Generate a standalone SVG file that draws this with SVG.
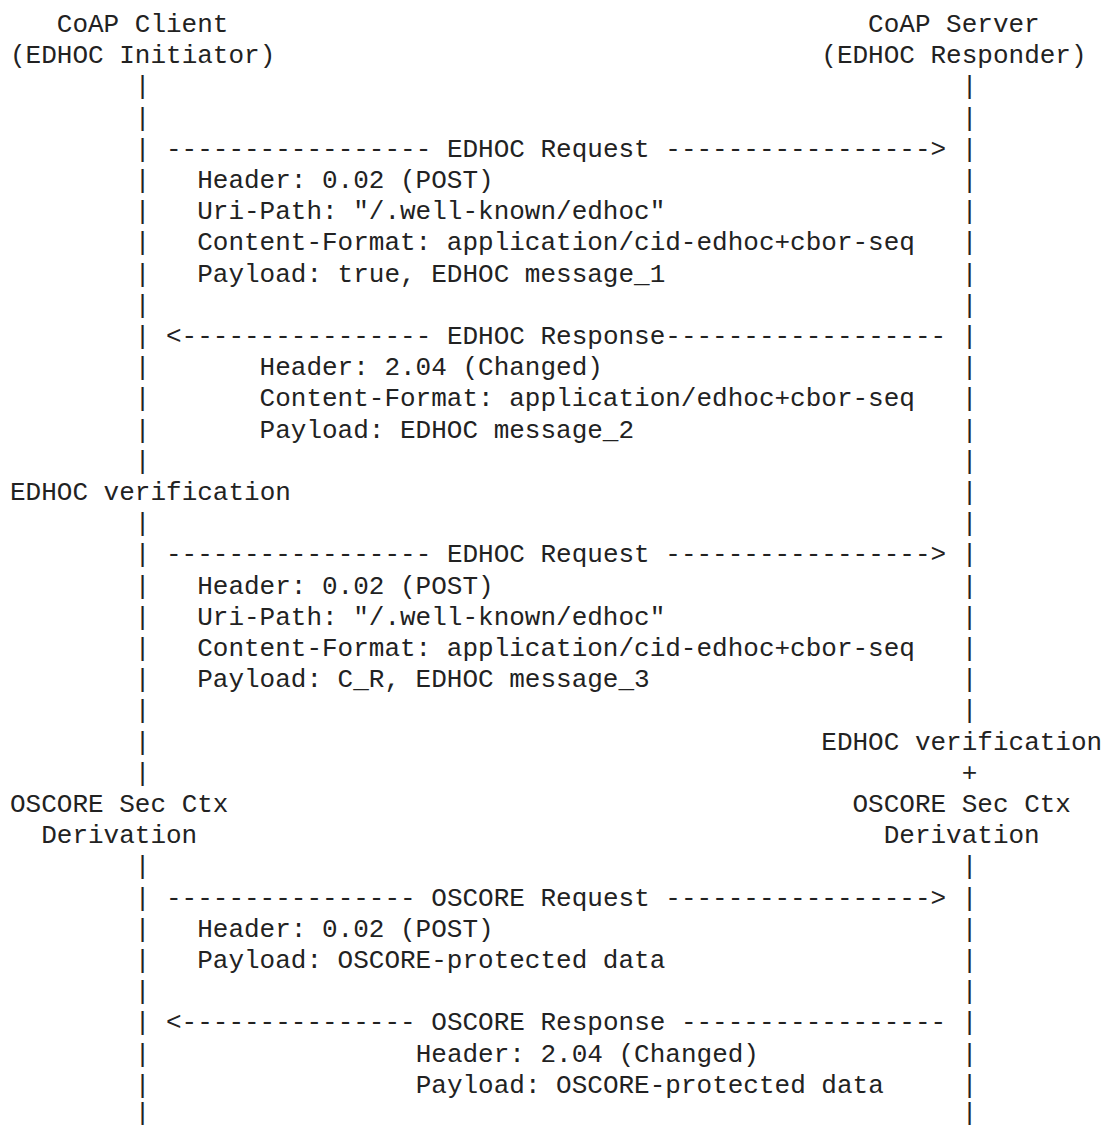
<svg xmlns="http://www.w3.org/2000/svg" width="1105" height="1125" viewBox="0 0 1105 1125">
<style>
text{font-family:"Liberation Mono","DejaVu Sans Mono",monospace;font-size:26px;fill:#222}
</style>
<rect width="1105" height="1125" fill="#fff"/>
<g id="client">
<text x="56.8" y="32">CoAP Client</text>
<text x="10" y="63.2">(EDHOC Initiator)</text>
</g>
<g id="server">
<text x="868.1" y="32">CoAP Server</text>
<text x="821.3" y="63.2">(EDHOC Responder)</text>
</g>
<g id="connectors">
<g id="lifeline-client">
<text x="134.8" y="94.4">|</text><text x="134.8" y="125.6">|</text><text x="134.8" y="156.8">|</text><text x="134.8" y="188">|</text><text x="134.8" y="219.2">|</text><text x="134.8" y="250.4">|</text><text x="134.8" y="281.6">|</text><text x="134.8" y="312.8">|</text><text x="134.8" y="344">|</text><text x="134.8" y="375.2">|</text><text x="134.8" y="406.4">|</text><text x="134.8" y="437.6">|</text><text x="134.8" y="468.8">|</text>
<text x="134.8" y="531.2">|</text><text x="134.8" y="562.4">|</text><text x="134.8" y="593.6">|</text><text x="134.8" y="624.8">|</text><text x="134.8" y="656">|</text><text x="134.8" y="687.2">|</text><text x="134.8" y="718.4">|</text><text x="134.8" y="749.6">|</text><text x="134.8" y="780.8">|</text>
<text x="134.8" y="874.4">|</text><text x="134.8" y="905.6">|</text><text x="134.8" y="936.8">|</text><text x="134.8" y="968">|</text><text x="134.8" y="999.2">|</text><text x="134.8" y="1030.4">|</text><text x="134.8" y="1061.6">|</text><text x="134.8" y="1092.8">|</text><text x="134.8" y="1121">|</text>
</g>
<g id="lifeline-server">
<text x="961.7" y="94.4">|</text><text x="961.7" y="125.6">|</text><text x="961.7" y="156.8">|</text><text x="961.7" y="188">|</text><text x="961.7" y="219.2">|</text><text x="961.7" y="250.4">|</text><text x="961.7" y="281.6">|</text><text x="961.7" y="312.8">|</text><text x="961.7" y="344">|</text><text x="961.7" y="375.2">|</text><text x="961.7" y="406.4">|</text><text x="961.7" y="437.6">|</text><text x="961.7" y="468.8">|</text><text x="961.7" y="500">|</text>
<text x="961.7" y="531.2">|</text><text x="961.7" y="562.4">|</text><text x="961.7" y="593.6">|</text><text x="961.7" y="624.8">|</text><text x="961.7" y="656">|</text><text x="961.7" y="687.2">|</text><text x="961.7" y="718.4">|</text>
<text x="961.7" y="874.4">|</text><text x="961.7" y="905.6">|</text><text x="961.7" y="936.8">|</text><text x="961.7" y="968">|</text><text x="961.7" y="999.2">|</text><text x="961.7" y="1030.4">|</text><text x="961.7" y="1061.6">|</text><text x="961.7" y="1092.8">|</text><text x="961.7" y="1121">|</text>
</g>
<g id="arrow-edhoc-req1">
<text x="166" y="156.8">-----------------</text>
<text x="665.3" y="156.8">-----------------&gt;</text>
</g>
<g id="arrow-edhoc-resp">
<text x="166" y="344">&lt;----------------</text>
<text x="665.3" y="344">------------------</text>
</g>
<g id="arrow-edhoc-req2">
<text x="166" y="562.4">-----------------</text>
<text x="665.3" y="562.4">-----------------&gt;</text>
</g>
<g id="arrow-oscore-req">
<text x="166" y="905.6">----------------</text>
<text x="665.3" y="905.6">-----------------&gt;</text>
</g>
<g id="arrow-oscore-resp">
<text x="166" y="1030.4">&lt;---------------</text>
<text x="680.9" y="1030.4">-----------------</text>
</g>
</g>
<g id="msg-edhoc-request-1">
<text x="446.9" y="156.8">EDHOC Request</text>
<text x="197.2" y="188">Header: 0.02 (POST)</text>
<text x="197.2" y="219.2">Uri-Path: "/.well-known/edhoc"</text>
<text x="197.2" y="250.4">Content-Format: application/cid-edhoc+cbor-seq</text>
<text x="197.2" y="281.6">Payload: true, EDHOC message_1</text>
</g>
<g id="msg-edhoc-response">
<text x="446.9" y="344">EDHOC Response</text>
<text x="259.6" y="375.2">Header: 2.04 (Changed)</text>
<text x="259.6" y="406.4">Content-Format: application/edhoc+cbor-seq</text>
<text x="259.6" y="437.6">Payload: EDHOC message_2</text>
</g>
<g id="client-verification">
<text x="10" y="500">EDHOC verification</text>
</g>
<g id="msg-edhoc-request-2">
<text x="446.9" y="562.4">EDHOC Request</text>
<text x="197.2" y="593.6">Header: 0.02 (POST)</text>
<text x="197.2" y="624.8">Uri-Path: "/.well-known/edhoc"</text>
<text x="197.2" y="656">Content-Format: application/cid-edhoc+cbor-seq</text>
<text x="197.2" y="687.2">Payload: C_R, EDHOC message_3</text>
</g>
<g id="server-verification">
<text x="821.3" y="749.6">EDHOC verification</text>
<text x="961.7" y="780.8">+</text>
<text x="852.5" y="812">OSCORE Sec Ctx</text>
<text x="883.7" y="843.2">Derivation</text>
</g>
<g id="client-derivation">
<text x="10" y="812">OSCORE Sec Ctx</text>
<text x="41.2" y="843.2">Derivation</text>
</g>
<g id="msg-oscore-request">
<text x="431.3" y="905.6">OSCORE Request</text>
<text x="197.2" y="936.8">Header: 0.02 (POST)</text>
<text x="197.2" y="968">Payload: OSCORE-protected data</text>
</g>
<g id="msg-oscore-response">
<text x="431.3" y="1030.4">OSCORE Response</text>
<text x="415.7" y="1061.6">Header: 2.04 (Changed)</text>
<text x="415.7" y="1092.8">Payload: OSCORE-protected data</text>
</g>
</svg>
